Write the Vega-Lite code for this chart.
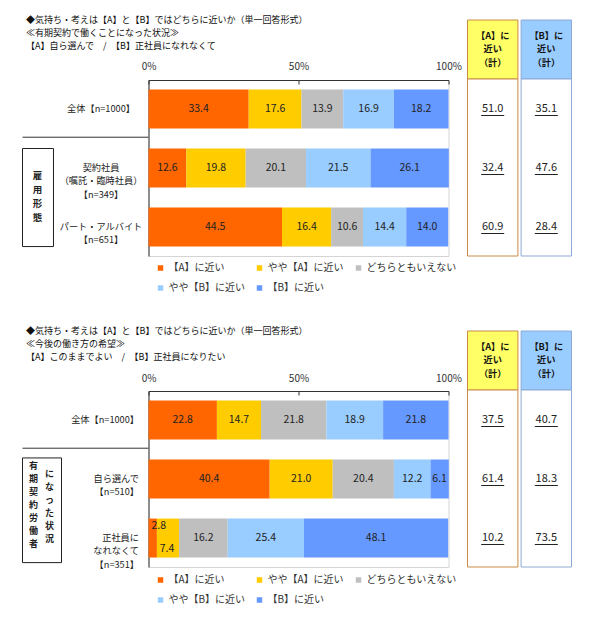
{
  "$schema": "https://vega.github.io/schema/vega-lite/v6.json",
  "background": "white",
  "padding": {"left": 21.5, "top": 14, "right": 5, "bottom": 5},
  "datasets": {
    "d1": [
      {"cat": "全体【n=1000】", "item": "【A】に近い", "v": 33.4},
      {"cat": "全体【n=1000】", "item": "やや【A】に近い", "v": 17.6},
      {"cat": "全体【n=1000】", "item": "どちらともいえない", "v": 13.9},
      {"cat": "全体【n=1000】", "item": "やや【B】に近い", "v": 16.9},
      {"cat": "全体【n=1000】", "item": "【B】に近い", "v": 18.2},
      {"cat": "契約社員\n（嘱託・臨時社員）\n【n=349】", "item": "【A】に近い", "v": 12.6},
      {"cat": "契約社員\n（嘱託・臨時社員）\n【n=349】", "item": "やや【A】に近い", "v": 19.8},
      {"cat": "契約社員\n（嘱託・臨時社員）\n【n=349】", "item": "どちらともいえない", "v": 20.1},
      {"cat": "契約社員\n（嘱託・臨時社員）\n【n=349】", "item": "やや【B】に近い", "v": 21.5},
      {"cat": "契約社員\n（嘱託・臨時社員）\n【n=349】", "item": "【B】に近い", "v": 26.1},
      {"cat": "パート・アルバイト\n【n=651】", "item": "【A】に近い", "v": 44.5},
      {"cat": "パート・アルバイト\n【n=651】", "item": "やや【A】に近い", "v": 16.4},
      {"cat": "パート・アルバイト\n【n=651】", "item": "どちらともいえない", "v": 10.6},
      {"cat": "パート・アルバイト\n【n=651】", "item": "やや【B】に近い", "v": 14.4},
      {"cat": "パート・アルバイト\n【n=651】", "item": "【B】に近い", "v": 14.0}
    ],
    "d2": [
      {"cat": "全体【n=1000】", "item": "【A】に近い", "v": 22.8},
      {"cat": "全体【n=1000】", "item": "やや【A】に近い", "v": 14.7},
      {"cat": "全体【n=1000】", "item": "どちらともいえない", "v": 21.8},
      {"cat": "全体【n=1000】", "item": "やや【B】に近い", "v": 18.9},
      {"cat": "全体【n=1000】", "item": "【B】に近い", "v": 21.8},
      {"cat": "自ら選んで\n【n=510】", "item": "【A】に近い", "v": 40.4},
      {"cat": "自ら選んで\n【n=510】", "item": "やや【A】に近い", "v": 21.0},
      {"cat": "自ら選んで\n【n=510】", "item": "どちらともいえない", "v": 20.4},
      {"cat": "自ら選んで\n【n=510】", "item": "やや【B】に近い", "v": 12.2},
      {"cat": "自ら選んで\n【n=510】", "item": "【B】に近い", "v": 6.1},
      {"cat": "正社員に\nなれなくて\n【n=351】", "item": "【A】に近い", "v": 2.8},
      {"cat": "正社員に\nなれなくて\n【n=351】", "item": "やや【A】に近い", "v": 7.4},
      {"cat": "正社員に\nなれなくて\n【n=351】", "item": "どちらともいえない", "v": 16.2},
      {"cat": "正社員に\nなれなくて\n【n=351】", "item": "やや【B】に近い", "v": 25.4},
      {"cat": "正社員に\nなれなくて\n【n=351】", "item": "【B】に近い", "v": 48.1}
    ],
    "h": [
      {"col": "A", "label": "【A】に\n近い\n（計）"},
      {"col": "B", "label": "【B】に\n近い\n（計）"}
    ],
    "s1": [
      {"cat": "全体【n=1000】", "col": "A", "v": 51.0},
      {"cat": "全体【n=1000】", "col": "B", "v": 35.1},
      {"cat": "契約社員\n（嘱託・臨時社員）\n【n=349】", "col": "A", "v": 32.4},
      {"cat": "契約社員\n（嘱託・臨時社員）\n【n=349】", "col": "B", "v": 47.6},
      {"cat": "パート・アルバイト\n【n=651】", "col": "A", "v": 60.9},
      {"cat": "パート・アルバイト\n【n=651】", "col": "B", "v": 28.4}
    ],
    "s2": [
      {"cat": "全体【n=1000】", "col": "A", "v": 37.5},
      {"cat": "全体【n=1000】", "col": "B", "v": 40.7},
      {"cat": "自ら選んで\n【n=510】", "col": "A", "v": 61.4},
      {"cat": "自ら選んで\n【n=510】", "col": "B", "v": 18.3},
      {"cat": "正社員に\nなれなくて\n【n=351】", "col": "A", "v": 10.2},
      {"cat": "正社員に\nなれなくて\n【n=351】", "col": "B", "v": 73.5}
    ]
  },
  "bounds": "flush",
  "spacing": 135,
  "resolve": {"scale": {"color": "independent"}},
  "vconcat": [
    {
      "width": 300,
      "height": 176,
      "resolve": {"scale": {"x": "independent", "y": "independent"}},
      "layer": [
        {
          "data": {"name": "d1"},
          "encoding": {
            "y": {
              "field": "cat", "type": "nominal",
              "scale": {"domain": ["全体【n=1000】", "契約社員\n（嘱託・臨時社員）\n【n=349】", "パート・アルバイト\n【n=651】"], "paddingInner": 0.34, "paddingOuter": 0.16},
              "axis": {"title": null, "ticks": false, "domainColor": "#333", "labelAlign": "center", "labelPadding": 48, "labelBaseline": "middle", "labelLineHeight": 13.4, "labelFontSize": 9.2, "labelColor": "#222", "labelLimit": 0, "labelExpr": "split(datum.label, '\\n')"}
            }
          },
          "layer": [
            {
              "transform": [{"window": [{"op": "row_number", "as": "ord"}], "groupby": ["cat"]}],
              "mark": {"type": "bar"},
              "encoding": {
                "x": {
                  "field": "v", "type": "quantitative", "stack": "zero",
                  "scale": {"domain": [0, 100], "nice": false, "zero": false},
                  "axis": {"orient": "top", "values": [0, 50, 100], "labelExpr": "datum.value + '%'", "labelFlush": false, "labelOverlap": false, "labelFontSize": 10, "labelColor": "#333", "labelPadding": 13, "tickSize": -4, "tickColor": "#333", "domainColor": "#333", "grid": false,
                    "title": ["◆気持ち・考えは【A】と【B】ではどちらに近いか（単一回答形式）", "≪有期契約で働くことになった状況≫", "【A】自ら選んで　/　【B】正社員になれなくて"],
                    "titleFontSize": 9, "titleFontWeight": "normal", "titleColor": "#111", "titleAlign": "left", "titleAnchor": "start", "titleBaseline": "top", "titleX": -123, "titleY": -65, "titleLineHeight": 13.2}
                },
                "color": {
                  "field": "item", "type": "nominal",
                  "scale": {"domain": ["【A】に近い", "やや【A】に近い", "どちらともいえない", "やや【B】に近い", "【B】に近い"], "range": ["#ff6600", "#ffcc00", "#bfbfbf", "#99ccff", "#6699ff"]},
                  "legend": {"orient": "none", "legendX": 7, "legendY": 183, "columns": 3, "direction": "horizontal", "title": null, "symbolType": "square", "symbolSize": 30, "symbolStrokeWidth": 0, "labelFontSize": 10, "labelColor": "#333", "columnPadding": 9, "rowPadding": 10, "labelOffset": 3}
                },
                "order": {"field": "ord", "type": "quantitative"}
              }
            },
            {
              "transform": [{"window": [{"op": "row_number", "as": "ord"}], "groupby": ["cat"]}],
              "mark": {"type": "text", "fontSize": 10.5, "color": "#222"},
              "encoding": {
                "x": {"field": "v", "type": "quantitative", "stack": "zero", "bandPosition": 0.5},
                "detail": {"field": "item", "type": "nominal"},
                "order": {"field": "ord", "type": "quantitative"},
                "text": {"field": "v", "type": "quantitative", "format": ".1f"}
              }
            },
            {
              "data": {"values": [{}]},
              "mark": {"type": "rule", "color": "#333", "strokeWidth": 1},
              "encoding": {"x": {"datum": -42}, "x2": {"datum": 0}, "y": {"datum": "契約社員\n（嘱託・臨時社員）\n【n=349】", "bandPosition": -0.29}}
            },
            {
              "data": {"values": [{}]},
              "mark": {"type": "rect", "fill": "white", "stroke": "#222", "strokeWidth": 1},
              "encoding": {"x": {"datum": -42}, "x2": {"datum": -31.67}, "y": {"datum": "契約社員\n（嘱託・臨時社員）\n【n=349】", "bandPosition": 0}, "y2": {"datum": "パート・アルバイト\n【n=651】", "bandPosition": 1}}
            },
            {
              "data": {"values": [{"t": "雇\n用\n形\n態"}]},
              "mark": {"type": "text", "fontSize": 9.5, "fontWeight": "bold", "lineBreak": "\n", "lineHeight": 13.8, "baseline": "middle", "color": "#222"},
              "encoding": {"x": {"datum": -37}, "y": {"datum": "契約社員\n（嘱託・臨時社員）\n【n=349】", "bandPosition": 0.713}, "text": {"field": "t"}}
            }
          ]
        },
        {
          "layer": [
            {
              "data": {"name": "h"},
              "mark": {"type": "rect", "strokeWidth": 1},
              "encoding": {
                "x": {"field": "col", "type": "nominal", "scale": {"domain": ["A", "B"], "range": [319, 423], "paddingInner": 0.06, "paddingOuter": 0}, "axis": null},
                "y": {"datum": "head", "scale": {"domain": ["head", "全体【n=1000】", "契約社員\n（嘱託・臨時社員）\n【n=349】", "パート・アルバイト\n【n=651】"], "range": [-60, 176], "paddingInner": 0, "paddingOuter": 0}, "axis": null},
                "fill": {"field": "col", "type": "nominal", "scale": {"domain": ["A", "B"], "range": ["#ffff66", "#99ccff"]}, "legend": null},
                "stroke": {"field": "col", "type": "nominal", "scale": {"domain": ["A", "B"], "range": ["#c98a48", "#8ea9d6"]}, "legend": null}
              }
            },
            {
              "data": {"name": "h"},
              "mark": {"type": "rect", "fill": "white", "strokeWidth": 1},
              "encoding": {
                "x": {"field": "col", "type": "nominal"},
                "y": {"datum": "全体【n=1000】", "bandPosition": 0},
                "y2": {"datum": "パート・アルバイト\n【n=651】", "bandPosition": 1},
                "stroke": {"field": "col", "type": "nominal", "legend": null}
              }
            },
            {
              "data": {"name": "h"},
              "mark": {"type": "text", "fontSize": 9.2, "fontWeight": "bold", "lineBreak": "\n", "lineHeight": 13.4, "baseline": "middle", "color": "#111", "dy": -13.4},
              "encoding": {"x": {"field": "col", "type": "nominal"}, "y": {"datum": "head"}, "text": {"field": "label"}}
            },
            {
              "data": {"name": "s1"},
              "mark": {"type": "text", "fontSize": 11, "color": "#222"},
              "encoding": {"x": {"field": "col", "type": "nominal"}, "y": {"field": "cat", "type": "nominal"}, "text": {"field": "v", "type": "quantitative", "format": ".1f"}}
            },
            {
              "data": {"name": "s1"},
              "mark": {"type": "tick", "orient": "horizontal", "size": 23, "thickness": 1, "yOffset": 7, "color": "#222", "opacity": 1},
              "encoding": {"x": {"field": "col", "type": "nominal"}, "y": {"field": "cat", "type": "nominal"}}
            }
          ]
        }
      ]
    },
    {
      "width": 300,
      "height": 176,
      "resolve": {"scale": {"x": "independent", "y": "independent"}},
      "layer": [
        {
          "data": {"name": "d2"},
          "encoding": {
            "y": {
              "field": "cat", "type": "nominal",
              "scale": {"domain": ["全体【n=1000】", "自ら選んで\n【n=510】", "正社員に\nなれなくて\n【n=351】"], "paddingInner": 0.34, "paddingOuter": 0.16},
              "axis": {"title": null, "ticks": false, "domainColor": "#333", "labelAlign": "right", "labelPadding": 10, "labelBaseline": "middle", "labelLineHeight": 13.4, "labelFontSize": 9.2, "labelColor": "#222", "labelLimit": 0, "labelExpr": "split(datum.label, '\\n')"}
            }
          },
          "layer": [
            {
              "transform": [{"window": [{"op": "row_number", "as": "ord"}], "groupby": ["cat"]}],
              "mark": {"type": "bar"},
              "encoding": {
                "x": {
                  "field": "v", "type": "quantitative", "stack": "zero",
                  "scale": {"domain": [0, 100], "nice": false, "zero": false},
                  "axis": {"orient": "top", "values": [0, 50, 100], "labelExpr": "datum.value + '%'", "labelFlush": false, "labelOverlap": false, "labelFontSize": 10, "labelColor": "#333", "labelPadding": 12, "tickSize": -4, "tickColor": "#333", "domainColor": "#333", "grid": false,
                    "title": ["◆気持ち・考えは【A】と【B】ではどちらに近いか（単一回答形式）", "≪今後の働き方の希望≫", "【A】このままでよい　/　【B】正社員になりたい"],
                    "titleFontSize": 9, "titleFontWeight": "normal", "titleColor": "#111", "titleAlign": "left", "titleAnchor": "start", "titleBaseline": "top", "titleX": -123, "titleY": -65, "titleLineHeight": 13.2}
                },
                "color": {
                  "field": "item", "type": "nominal",
                  "scale": {"domain": ["【A】に近い", "やや【A】に近い", "どちらともいえない", "やや【B】に近い", "【B】に近い"], "range": ["#ff6600", "#ffcc00", "#bfbfbf", "#99ccff", "#6699ff"]},
                  "legend": {"orient": "none", "legendX": 7, "legendY": 184, "columns": 3, "direction": "horizontal", "title": null, "symbolType": "square", "symbolSize": 30, "symbolStrokeWidth": 0, "labelFontSize": 10, "labelColor": "#333", "columnPadding": 9, "rowPadding": 10, "labelOffset": 3}
                },
                "order": {"field": "ord", "type": "quantitative"}
              }
            },
            {
              "transform": [{"window": [{"op": "row_number", "as": "ord"}], "groupby": ["cat"]}],
              "mark": {"type": "text", "fontSize": 10.5, "color": "#222"},
              "encoding": {
                "x": {"field": "v", "type": "quantitative", "stack": "zero", "bandPosition": 0.5},
                "detail": {"field": "item", "type": "nominal"},
                "order": {"field": "ord", "type": "quantitative"},
                "text": {"condition": {"test": "datum.ord <= 2 && datum.v < 8", "value": ""}, "field": "v", "type": "quantitative", "format": ".1f"}
              }
            },
            {
              "transform": [{"window": [{"op": "row_number", "as": "ord"}], "groupby": ["cat"]}],
              "mark": {"type": "text", "fontSize": 10.5, "color": "#222", "dx": 6, "dy": -12},
              "encoding": {
                "x": {"field": "v", "type": "quantitative", "stack": "zero", "bandPosition": 0.5},
                "detail": {"field": "item", "type": "nominal"},
                "order": {"field": "ord", "type": "quantitative"},
                "text": {"condition": {"test": "!(datum.ord === 1 && datum.v < 8)", "value": ""}, "field": "v", "type": "quantitative", "format": ".1f"}
              }
            },
            {
              "transform": [{"window": [{"op": "row_number", "as": "ord"}], "groupby": ["cat"]}],
              "mark": {"type": "text", "fontSize": 10.5, "color": "#222", "dx": -1, "dy": 11},
              "encoding": {
                "x": {"field": "v", "type": "quantitative", "stack": "zero", "bandPosition": 0.5},
                "detail": {"field": "item", "type": "nominal"},
                "order": {"field": "ord", "type": "quantitative"},
                "text": {"condition": {"test": "!(datum.ord === 2 && datum.v < 8)", "value": ""}, "field": "v", "type": "quantitative", "format": ".1f"}
              }
            },
            {
              "data": {"values": [{}]},
              "mark": {"type": "rule", "color": "#333", "strokeWidth": 1},
              "encoding": {"x": {"datum": -42}, "x2": {"datum": 0}, "y": {"datum": "自ら選んで\n【n=510】", "bandPosition": -0.29}}
            },
            {
              "data": {"values": [{}]},
              "mark": {"type": "rect", "fill": "white", "stroke": "#222", "strokeWidth": 1},
              "encoding": {"x": {"datum": -42}, "x2": {"datum": -29}, "y": {"datum": "自ら選んで\n【n=510】", "bandPosition": -0.04}, "y2": {"datum": "正社員に\nなれなくて\n【n=351】", "bandPosition": 1.13}}
            },
            {
              "data": {"values": [{"t": "有\n期\n契\n約\n労\n働\n者"}]},
              "mark": {"type": "text", "fontSize": 9, "fontWeight": "bold", "lineBreak": "\n", "lineHeight": 13, "baseline": "middle", "color": "#222"},
              "encoding": {"x": {"datum": -38.3}, "y": {"datum": "自ら選んで\n【n=510】", "bandPosition": 0.174}, "text": {"field": "t"}}
            },
            {
              "data": {"values": [{"t": "に\nな\nっ\nた\n状\n況"}]},
              "mark": {"type": "text", "fontSize": 9, "fontWeight": "bold", "lineBreak": "\n", "lineHeight": 13, "baseline": "middle", "color": "#222"},
              "encoding": {"x": {"datum": -33}, "y": {"datum": "自ら選んで\n【n=510】", "bandPosition": 0.367}, "text": {"field": "t"}}
            }
          ]
        },
        {
          "layer": [
            {
              "data": {"name": "h"},
              "mark": {"type": "rect", "strokeWidth": 1},
              "encoding": {
                "x": {"field": "col", "type": "nominal", "scale": {"domain": ["A", "B"], "range": [319, 423], "paddingInner": 0.06, "paddingOuter": 0}, "axis": null},
                "y": {"datum": "head", "scale": {"domain": ["head", "全体【n=1000】", "自ら選んで\n【n=510】", "正社員に\nなれなくて\n【n=351】"], "range": [-60, 176], "paddingInner": 0, "paddingOuter": 0}, "axis": null},
                "fill": {"field": "col", "type": "nominal", "scale": {"domain": ["A", "B"], "range": ["#ffff66", "#99ccff"]}, "legend": null},
                "stroke": {"field": "col", "type": "nominal", "scale": {"domain": ["A", "B"], "range": ["#c98a48", "#8ea9d6"]}, "legend": null}
              }
            },
            {
              "data": {"name": "h"},
              "mark": {"type": "rect", "fill": "white", "strokeWidth": 1},
              "encoding": {
                "x": {"field": "col", "type": "nominal"},
                "y": {"datum": "全体【n=1000】", "bandPosition": 0},
                "y2": {"datum": "正社員に\nなれなくて\n【n=351】", "bandPosition": 1},
                "stroke": {"field": "col", "type": "nominal", "legend": null}
              }
            },
            {
              "data": {"name": "h"},
              "mark": {"type": "text", "fontSize": 9.2, "fontWeight": "bold", "lineBreak": "\n", "lineHeight": 13.4, "baseline": "middle", "color": "#111", "dy": -13.4},
              "encoding": {"x": {"field": "col", "type": "nominal"}, "y": {"datum": "head"}, "text": {"field": "label"}}
            },
            {
              "data": {"name": "s2"},
              "mark": {"type": "text", "fontSize": 11, "color": "#222"},
              "encoding": {"x": {"field": "col", "type": "nominal"}, "y": {"field": "cat", "type": "nominal"}, "text": {"field": "v", "type": "quantitative", "format": ".1f"}}
            },
            {
              "data": {"name": "s2"},
              "mark": {"type": "tick", "orient": "horizontal", "size": 23, "thickness": 1, "yOffset": 7, "color": "#222", "opacity": 1},
              "encoding": {"x": {"field": "col", "type": "nominal"}, "y": {"field": "cat", "type": "nominal"}}
            }
          ]
        }
      ]
    }
  ],
  "config": {
    "font": "Noto Sans CJK JP",
    "view": {"stroke": "#d4d4d4", "strokeWidth": 1}
  }
}
